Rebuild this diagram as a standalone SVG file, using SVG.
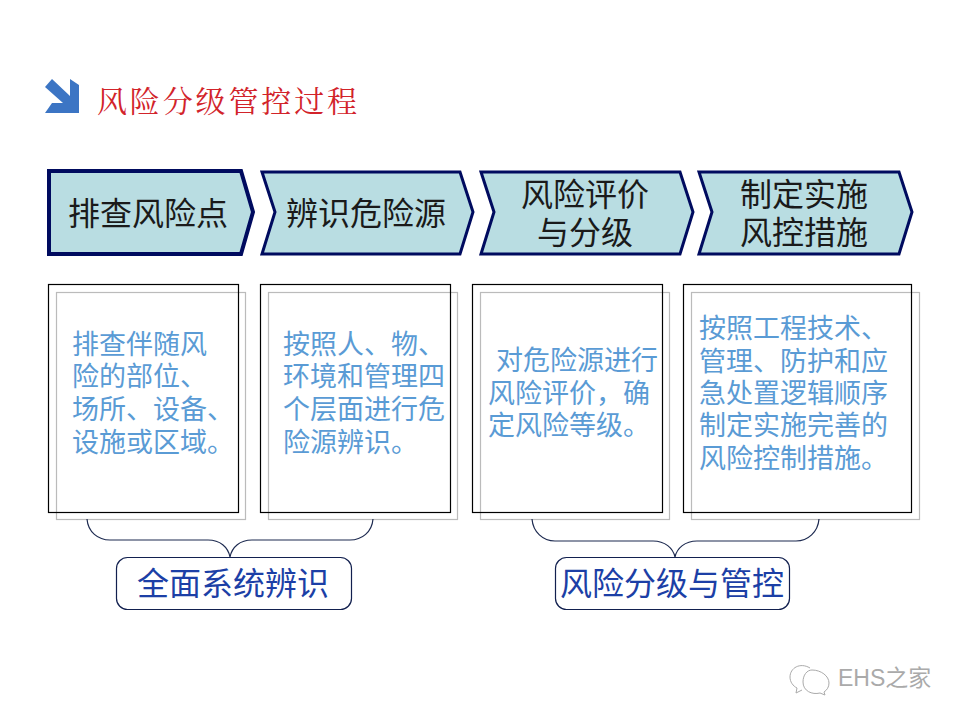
<svg xmlns="http://www.w3.org/2000/svg" width="960" height="720" viewBox="0 0 960 720">
<style>
text{font-family:"Noto Sans CJK SC","Liberation Sans",sans-serif}
.ch{fill:#b9dde2;stroke:#000b5f;stroke-width:3}
.cht{font-size:32px;fill:#1a1a1a;text-anchor:middle}
.f{fill:none;stroke:#000;stroke-width:1.2}
.b{fill:none;stroke:#bbb;stroke-width:1.2}
.bt{font-size:27px;fill:#5a9bd5}
.br{fill:none;stroke:#1d2a50;stroke-width:1.2}
.pill{fill:#fff;stroke:#12204f;stroke-width:1.2}
.pt{font-size:32px;fill:#1c3fa6;text-anchor:middle}
</style>
<rect width="960" height="720" fill="#fff"/>
<g id="title">
<path d="M52 79L70 96L70 79L79 85L79 113L45 113L52 103L63 103L45 87Z" fill="#3c75c4"/>
<text x="97" y="112" font-size="30" fill="#d2232a" style="font-family:'Noto Serif CJK SC','Noto Sans CJK SC',sans-serif" textLength="260">风险分级管控过程</text>
</g>
<g id="step1"><path class="ch" d="M49 171H241L253 212L241 254H49Z" style="stroke-width:4"/><text class="cht" x="148" y="225">排查风险点</text></g>
<g id="step2"><path class="ch" d="M262 172H460L473 212L460 254H262L275 212Z"/><text class="cht" x="366" y="225">辨识危险源</text></g>
<g id="step3"><path class="ch" d="M481 172H680L693 212L680 254H481L494 212Z"/><text class="cht" x="585" y="206">风险评价</text><text class="cht" x="585" y="244">与分级</text></g>
<g id="step4"><path class="ch" d="M699 172H899L912 212L899 254H699L712 212Z"/><text class="cht" x="804" y="206">制定实施</text><text class="cht" x="804" y="244">风控措施</text></g>
<g id="box1"><rect class="b" x="56.5" y="292.5" width="189" height="227"/><rect class="f" x="48.5" y="284.5" width="190" height="228"/>
<text class="bt" x="72" y="354">排查伴随风</text><text class="bt" x="72" y="386">险的部位、</text><text class="bt" x="72" y="419">场所、设备、</text><text class="bt" x="72" y="452">设施或区域。</text></g>
<g id="box2"><rect class="b" x="268.5" y="292.5" width="189" height="227"/><rect class="f" x="260.5" y="284.5" width="190" height="228"/>
<text class="bt" x="283" y="354">按照人、物、</text><text class="bt" x="283" y="386">环境和管理四</text><text class="bt" x="283" y="419">个层面进行危</text><text class="bt" x="283" y="452">险源辨识。</text></g>
<g id="box3"><rect class="b" x="480.5" y="292.5" width="189" height="227"/><rect class="f" x="472.5" y="284.5" width="190" height="228"/>
<text class="bt" x="496" y="370">对危险源进行</text><text class="bt" x="488" y="403">风险评价，确</text><text class="bt" x="488" y="435">定风险等级。</text></g>
<g id="box4"><rect class="b" x="691.5" y="292.5" width="228" height="227"/><rect class="f" x="683.5" y="284.5" width="228" height="228"/>
<text class="bt" x="699" y="338">按照工程技术、</text><text class="bt" x="699" y="371">管理、防护和应</text><text class="bt" x="699" y="403">急处置逻辑顺序</text><text class="bt" x="699" y="435">制定实施完善的</text><text class="bt" x="699" y="468">风险控制措施。</text></g>
<g id="connectors">
<path class="br" d="M87 519C88 532 98 540 110 540H208C220 540 228 547 230 557C232 547 240 540 252 540H350C362 540 372 532 373 519"/>
<path class="br" d="M532 519C533 532 543 541 555 541H653C665 541 673 548 675 557C677 548 685 541 697 541H796C808 541 818 532 819 519"/>
</g>
<g id="pill1"><rect class="pill" x="116.5" y="557.5" width="235" height="52" rx="11"/><text class="pt" x="233" y="595">全面系统辨识</text></g>
<g id="pill2"><rect class="pill" x="555.5" y="557.5" width="234" height="52" rx="11"/><text class="pt" x="672" y="595">风险分级与管控</text></g>
<g id="watermark" fill="none" stroke="#aaa" stroke-width="1">
<path d="M810 668C800 662 790 668 790 677C790 682 793 686 797 688L796 693L802 690"/>
<path d="M812 670C821 670 829 676 829 683C829 687 827 690 824 692L825 695L820 693C812 695 803 691 803 682C803 675 807 670 812 670Z"/>
<text x="838" y="686" font-size="23" fill="#aaa" stroke="none" style="font-family:'Liberation Sans','Noto Sans CJK SC',sans-serif">EHS之家</text>
</g>
</svg>
